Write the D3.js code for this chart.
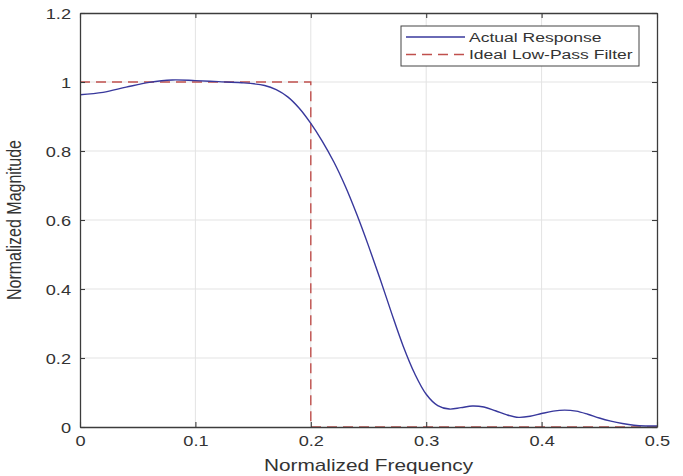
<!DOCTYPE html>
<html>
<head>
<meta charset="utf-8">
<script src="https://cdn.jsdelivr.net/npm/d3@7"></script>
<style>
  body { margin: 0; background: #fff; }
  text { font-family: "Liberation Sans", Arial, sans-serif; fill: #333; }
</style>
</head>
<body>
<script>
//----------------------------------------- data -----------------------------------------

var freq = [0, 0.02, 0.04, 0.06, 0.08, 0.1, 0.12, 0.14, 0.16, 0.17, 0.18, 0.19, 0.2,
            0.21, 0.22, 0.23, 0.24, 0.25, 0.26, 0.27, 0.28, 0.29, 0.3, 0.31, 0.32, 0.33,
            0.34, 0.35, 0.36, 0.37, 0.38, 0.39, 0.4, 0.41, 0.42, 0.43, 0.44, 0.45, 0.46,
            0.47, 0.48, 0.49, 0.5];
var actual = [0.963, 0.970, 0.985, 0.999, 1.006, 1.004, 1.001, 0.998, 0.990, 0.978, 0.957, 0.924, 0.880,
              0.828, 0.768, 0.697, 0.615, 0.525, 0.430, 0.330, 0.235, 0.155, 0.095, 0.062, 0.052, 0.056,
              0.061, 0.058, 0.047, 0.035, 0.028, 0.031, 0.039, 0.046, 0.049, 0.046, 0.037, 0.026, 0.017,
              0.010, 0.005, 0.003, 0.003];

var idealFreq = [0, 0.2, 0.2, 0.5];
var idealMag  = [1, 1, 0, 0];

var xTicks = [0, 0.1, 0.2, 0.3, 0.4, 0.5];
var yTicks = [0, 0.2, 0.4, 0.6, 0.8, 1, 1.2];

var legendLabels = ["Actual Response", "Ideal Low-Pass Filter"];

//----------------------------------------- svg ------------------------------------------

var svg = d3.select("body")
          .append("svg")
          .attr("width", 683)
          .attr("height", 476);

var pL = 80, pR = 657, pT = 13, pB = 427;

var x = d3.scaleLinear().domain([0, 0.5]).range([pL, pR]);
var y = d3.scaleLinear().domain([0, 1.2]).range([pB, pT]);

var blue = "#38389c";
var red = "#c0504d";
var sx = "scale(1.3,1)";

//----------------------------------------- grid -----------------------------------------

var grid = svg.append("g").attr("class", "grid");

grid.selectAll("line.vx")
    .data(xTicks.slice(1, -1))
    .enter().append("line")
    .attr("x1", function(d) { return x(d); })
    .attr("x2", function(d) { return x(d); })
    .attr("y1", pT).attr("y2", pB)
    .attr("stroke", "#e3e3e3").attr("stroke-width", 1);

grid.selectAll("line.hy")
    .data(yTicks.slice(1, -1))
    .enter().append("line")
    .attr("y1", function(d) { return y(d); })
    .attr("y2", function(d) { return y(d); })
    .attr("x1", pL).attr("x2", pR)
    .attr("stroke", "#e3e3e3").attr("stroke-width", 1);

//----------------------------------------- lines ----------------------------------------

var ideal = d3.line()
    .x(function(d, i) { return x(idealFreq[i]); })
    .y(function(d, i) { return y(idealMag[i]); });

svg.append("path")
    .attr("d", ideal(idealFreq))
    .attr("fill", "none")
    .attr("stroke", red)
    .attr("stroke-width", 1.4)
    .attr("stroke-dasharray", "10,6");

var resp = d3.line()
    .curve(d3.curveCatmullRom)
    .x(function(d, i) { return x(freq[i]); })
    .y(function(d, i) { return y(actual[i]); });

svg.append("path")
    .attr("d", resp(freq))
    .attr("fill", "none")
    .attr("stroke", blue)
    .attr("stroke-width", 1.4);

//----------------------------------------- axes -----------------------------------------

function styleAxis(g) {
  g.select(".domain").attr("stroke", "#3c3c3c").attr("stroke-width", 1.3);
  g.selectAll(".tick line").attr("stroke", "#3c3c3c").attr("stroke-width", 1.1);
  g.selectAll(".tick text").attr("fill", "#333").style("font-size", "14px")
    .attr("font-family", null);
}

var xAxis = svg.append("g")
    .attr("transform", "translate(0," + pB + ")")
    .call(d3.axisBottom(x).tickValues(xTicks).tickSize(-5).tickSizeOuter(0)
          .tickFormat(d3.format("")))
    .call(styleAxis);
xAxis.selectAll(".tick text")
    .attr("y", 0).attr("dy", null)
    .attr("transform", "translate(0,19) " + sx);

var xTop = svg.append("g")
    .attr("transform", "translate(0," + pT + ")")
    .call(d3.axisTop(x).tickValues(xTicks).tickSize(-5).tickSizeOuter(0).tickFormat(""))
    .call(styleAxis);

var yAxis = svg.append("g")
    .attr("transform", "translate(" + pL + ",0)")
    .call(d3.axisLeft(y).tickValues(yTicks).tickSize(-5).tickSizeOuter(0)
          .tickFormat(d3.format("")))
    .call(styleAxis);
yAxis.selectAll(".tick text")
    .attr("x", 0).attr("dy", "0.4em")
    .attr("transform", "translate(-9,0) " + sx);

var yRight = svg.append("g")
    .attr("transform", "translate(" + pR + ",0)")
    .call(d3.axisRight(y).tickValues(yTicks).tickSize(-5).tickSizeOuter(0).tickFormat(""))
    .call(styleAxis);

//----------------------------------------- labels ---------------------------------------

svg.append("text")
    .attr("transform", "translate(" + ((pL + pR) / 2) + ",471) " + sx)
    .attr("text-anchor", "middle")
    .style("font-size", "16px")
    .text("Normalized Frequency");

svg.append("text")
    .attr("transform", "translate(21," + ((pT + pB) / 2) + ") rotate(-90) scale(1,1.3)")
    .attr("text-anchor", "middle")
    .style("font-size", "16px")
    .text("Normalized Magnitude");

//----------------------------------------- legend ---------------------------------------

var legend = svg.append("g").attr("class", "legend");

legend.append("rect")
    .attr("x", 401).attr("y", 26)
    .attr("width", 238).attr("height", 40)
    .attr("fill", "#fff")
    .attr("stroke", "#444")
    .attr("stroke-width", 1);

var rows = legend.selectAll("g.row")
    .data(legendLabels)
    .enter().append("g")
    .attr("transform", function(d, i) { return "translate(0," + (37 + i * 17.5) + ")"; });

rows.append("line")
    .attr("x1", 406).attr("x2", 465)
    .attr("y1", 0).attr("y2", 0)
    .attr("stroke", function(d, i) { return i == 0 ? blue : red; })
    .attr("stroke-width", 1.4)
    .attr("stroke-dasharray", function(d, i) { return i == 0 ? null : "10,6"; });

rows.append("text")
    .attr("transform", "translate(469,0) " + sx)
    .attr("dy", "0.36em")
    .style("font-size", "13.5px")
    .text(function(d) { return d; });
</script>
</body>
</html>
